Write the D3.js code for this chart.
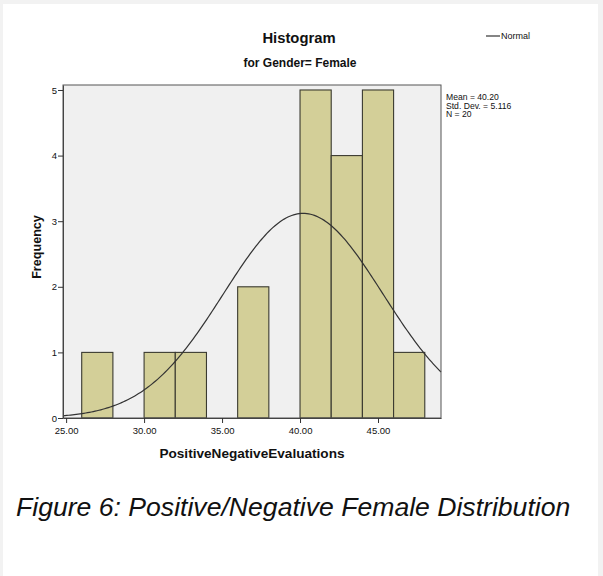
<!DOCTYPE html>
<html>
<head>
<meta charset="utf-8">
<script src="https://cdn.jsdelivr.net/npm/d3@7"></script>
<style>
  html, body { margin: 0; padding: 0; background: #ffffff; }
  svg { display: block; }
  text { font-family: "Liberation Sans", Arial, sans-serif; fill: #111; }
</style>
</head>
<body>
<svg id="chart" width="603" height="576"></svg>
<script>
// Histogram bins (lower edge, upper edge) and frequencies
const binStarts = [26, 30, 32, 36, 40, 42, 44, 46];
const binEnds   = [28, 32, 34, 38, 42, 44, 46, 48];
const counts    = [1, 1, 1, 2, 5, 4, 5, 1];

// Axis ticks
const xTicks = [25, 30, 35, 40, 45];
const yTicks = [0, 1, 2, 3, 4, 5];

// Summary statistics shown beside the plot
const stats = { mean: 40.20, sd: 5.116, n: 20, binWidth: 2 };
const statLines = ["Mean = 40.20", "Std. Dev. = 5.116", "N = 20"];

const svg = d3.select("#chart");

// Light page border
svg.append("rect").attr("x", 0).attr("y", 0).attr("width", 603).attr("height", 576).attr("fill", "#f2f2f2");
svg.append("rect").attr("x", 3).attr("y", 4).attr("width", 595).attr("height", 572).attr("fill", "#ffffff");

const plotL = 63, plotR = 441, plotT = 85, plotB = 418;

const x = d3.scaleLinear().domain([24.8, 49.04]).range([plotL, plotR]);
const y = d3.scaleLinear().domain([0, 5.076]).range([plotB, plotT]);

// Plot background
svg.append("rect")
  .attr("x", plotL).attr("y", plotT)
  .attr("width", plotR - plotL).attr("height", plotB - plotT)
  .attr("fill", "#f0f0f0");

// Bars
const bins = binStarts.map((s, i) => ({ x0: s, x1: binEnds[i], c: counts[i] }));
svg.append("g").selectAll("rect").data(bins).join("rect")
  .attr("x", d => x(d.x0))
  .attr("y", d => y(d.c))
  .attr("width", d => x(d.x1) - x(d.x0))
  .attr("height", d => y(0) - y(d.c))
  .attr("fill", "#d3cf98")
  .attr("stroke", "#3a3a30")
  .attr("stroke-width", 1.1);

// Fitted normal curve scaled to frequencies
const pdf = v => stats.n * stats.binWidth / (stats.sd * Math.sqrt(2 * Math.PI)) *
  Math.exp(-0.5 * Math.pow((v - stats.mean) / stats.sd, 2));
const curveXs = d3.range(200 + 1).map(i => 24.8 + (49.04 - 24.8) * i / 200);
svg.append("path")
  .datum(curveXs)
  .attr("fill", "none")
  .attr("stroke", "#333")
  .attr("stroke-width", 1.2)
  .attr("d", d3.line().x(d => x(d)).y(d => y(pdf(d))));

// Frame
svg.append("rect")
  .attr("x", plotL).attr("y", plotT)
  .attr("width", plotR - plotL).attr("height", plotB - plotT)
  .attr("fill", "none")
  .attr("stroke", "#555")
  .attr("stroke-width", 1);

// Axes
const xAxis = d3.axisBottom(x).tickValues(xTicks).tickFormat(d3.format(".2f")).tickSize(5).tickSizeOuter(0);
const gx = svg.append("g").attr("transform", `translate(0,${plotB})`).call(xAxis);
gx.select(".domain").attr("stroke", "#444");
gx.selectAll(".tick line").attr("stroke", "#333");
gx.selectAll("text").attr("font-size", 9.5).attr("fill", "#222").attr("dy", "0.8em")
  .style("font-family", "Liberation Sans, Arial, sans-serif");

const yAxis = d3.axisLeft(y).tickValues(yTicks).tickFormat(d3.format("d")).tickSize(5).tickSizeOuter(0);
const gy = svg.append("g").attr("transform", `translate(${plotL},0)`).call(yAxis);
gy.select(".domain").attr("stroke", "#444");
gy.selectAll(".tick line").attr("stroke", "#333");
gy.selectAll("text").attr("font-size", 9.5).attr("fill", "#222").attr("x", -6)
  .style("font-family", "Liberation Sans, Arial, sans-serif");

// Titles
svg.append("text").attr("x", 299).attr("y", 43).attr("text-anchor", "middle")
  .attr("font-size", 14.8).attr("font-weight", "bold").text("Histogram");
svg.append("text").attr("x", 300).attr("y", 67).attr("text-anchor", "middle")
  .attr("font-size", 12).attr("font-weight", "bold").text("for Gender= Female");

// Axis titles
svg.append("text").attr("x", 252).attr("y", 458).attr("text-anchor", "middle")
  .attr("font-size", 13.6).attr("font-weight", "bold").text("PositiveNegativeEvaluations");
svg.append("text").attr("transform", "translate(41,247) rotate(-90)").attr("text-anchor", "middle")
  .attr("font-size", 12.6).attr("font-weight", "bold").text("Frequency");

// Legend
svg.append("line").attr("x1", 486).attr("x2", 500).attr("y1", 36).attr("y2", 36)
  .attr("stroke", "#333").attr("stroke-width", 1.2);
svg.append("text").attr("x", 501).attr("y", 39).attr("font-size", 9).text("Normal");

// Statistics block
svg.append("g").selectAll("text").data(statLines).join("text")
  .attr("x", 446).attr("y", (d, i) => 100 + i * 8.5)
  .attr("font-size", 8.6).text(d => d);

// Caption
svg.append("text").attr("x", 16).attr("y", 516)
  .attr("font-size", 26.6).attr("font-style", "italic")
  .text("Figure 6: Positive/Negative Female Distribution");
</script>
</body>
</html>
